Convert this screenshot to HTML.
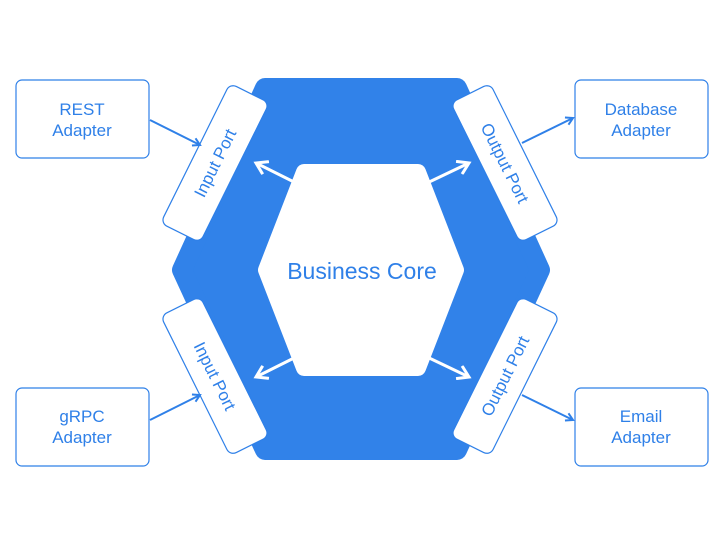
<!DOCTYPE html>
<html><head><style>
html,body{margin:0;padding:0;background:#fff;}
svg{display:block;}
text{font-family:"Liberation Sans",sans-serif;fill:#2f80e8;}
</style></head><body>
<svg width="720" height="540" viewBox="0 0 720 540">
<defs>
<marker id="ab" markerWidth="10" markerHeight="10" refX="8" refY="5" orient="auto" markerUnits="userSpaceOnUse"><path d="M1,1 L8,5 L1,9" fill="none" stroke="#2f80e8" stroke-width="2"/></marker>
<marker id="aw" markerWidth="16" markerHeight="16" refX="13" refY="8" orient="auto" markerUnits="userSpaceOnUse"><path d="M2,1 L13,8 L2,15" fill="none" stroke="#fff" stroke-width="3"/></marker>
</defs>
<path d="M265,88 L457,88 L540,270 L457,450 L265,450 L182,270 Z" fill="#3182e9" stroke="#3182e9" stroke-width="20" stroke-linejoin="round"/>
<path d="M304,172 L418,172 L456,270 L418,368 L304,368 L266,270 Z" fill="#fff" stroke="#fff" stroke-width="16" stroke-linejoin="round"/>
<text x="362" y="279" font-size="23" text-anchor="middle">Business Core</text>
<g stroke="#fff" stroke-width="3" fill="none">
<line x1="298" y1="184" x2="256" y2="163" marker-end="url(#aw)"/>
<line x1="425" y1="184" x2="469" y2="163" marker-end="url(#aw)"/>
<line x1="298" y1="356" x2="256" y2="377" marker-end="url(#aw)"/>
<line x1="425" y1="356" x2="469" y2="377" marker-end="url(#aw)"/>
</g>
<g fill="#fff" stroke="#2f80e8" stroke-width="1.2">
<rect x="-78" y="-22" width="156" height="44" rx="7" transform="translate(215,163) rotate(-63.6)"/>
<rect x="-78" y="-22" width="156" height="44" rx="7" transform="translate(215,376) rotate(63.6)"/>
<rect x="-78" y="-22" width="156" height="44" rx="7" transform="translate(505,163) rotate(63.6)"/>
<rect x="-78" y="-22" width="156" height="44" rx="7" transform="translate(505,376) rotate(-63.6)"/>
<rect x="16" y="80" width="133" height="78" rx="6"/>
<rect x="575" y="80" width="133" height="78" rx="6"/>
<rect x="16" y="388" width="133" height="78" rx="6"/>
<rect x="575" y="388" width="133" height="78" rx="6"/>
</g>
<g font-size="17" text-anchor="middle">
<text transform="translate(215,163) rotate(-63.6)" y="6">Input Port</text>
<text transform="translate(215,376) rotate(63.6)" y="6">Input Port</text>
<text transform="translate(505,163) rotate(63.6)" y="6">Output Port</text>
<text transform="translate(505,376) rotate(-63.6)" y="6">Output Port</text>
<text x="82" y="115">REST</text><text x="82" y="136">Adapter</text>
<text x="641" y="115">Database</text><text x="641" y="136">Adapter</text>
<text x="82" y="422">gRPC</text><text x="82" y="443">Adapter</text>
<text x="641" y="422">Email</text><text x="641" y="443">Adapter</text>
</g>
<g stroke="#2f80e8" stroke-width="2" fill="none">
<line x1="150" y1="120" x2="200" y2="145" marker-end="url(#ab)"/>
<line x1="522" y1="143" x2="573" y2="118" marker-end="url(#ab)"/>
<line x1="150" y1="420" x2="200" y2="395" marker-end="url(#ab)"/>
<line x1="522" y1="395" x2="573" y2="420" marker-end="url(#ab)"/>
</g>
</svg>
</body></html>
